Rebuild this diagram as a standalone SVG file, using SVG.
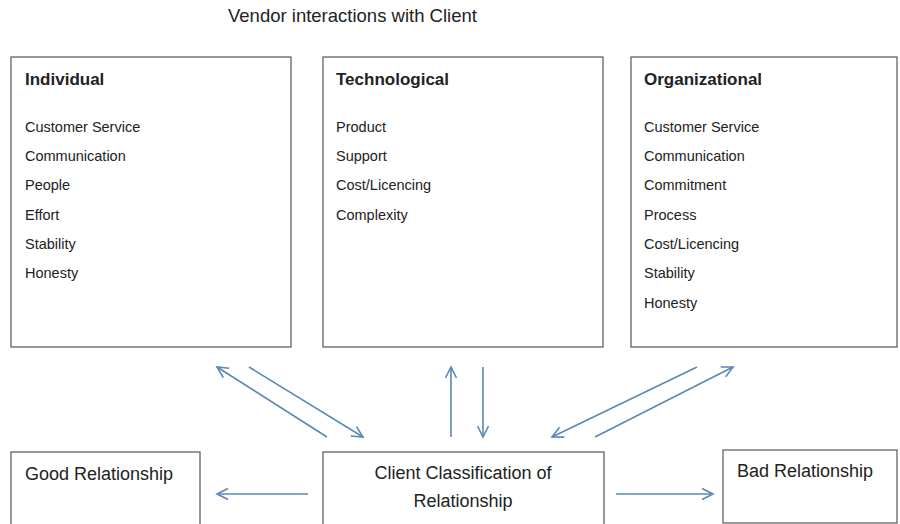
<svg xmlns="http://www.w3.org/2000/svg" width="900" height="524" viewBox="0 0 900 524">
  <style>
    .box { fill: #ffffff; stroke: #555555; stroke-width: 1.2; }
    .t { font-family: "Liberation Sans", Arial, sans-serif; fill: #222222; }
    .title { font-size: 18.5px; }
    .hdr { font-size: 17px; font-weight: bold; }
    .item { font-size: 14.5px; }
    .big { font-size: 18px; }
    .arrow { stroke: #5b87b5; stroke-width: 1.6; fill: none; marker-end: url(#head); }
  </style>
  <defs>
    <marker id="head" markerUnits="userSpaceOnUse" markerWidth="14" markerHeight="14" viewBox="0 0 14 14" refX="12" refY="7" orient="auto">
      <path d="M1,1.5 L12,7 L1,12.5" fill="none" stroke="#5b87b5" stroke-width="1.6"/>
    </marker>
  </defs>
  <rect width="900" height="524" fill="#ffffff"/>

  <text class="t title" x="228" y="22">Vendor interactions with Client</text>

  <g id="individual">
    <rect class="box" x="11" y="57" width="280" height="290"/>
    <text class="t hdr" x="25" y="85">Individual</text>
    <text class="t item" x="25" y="132">Customer Service</text>
    <text class="t item" x="25" y="161">Communication</text>
    <text class="t item" x="25" y="190">People</text>
    <text class="t item" x="25" y="220">Effort</text>
    <text class="t item" x="25" y="249">Stability</text>
    <text class="t item" x="25" y="278">Honesty</text>
  </g>

  <g id="technological">
    <rect class="box" x="323" y="57" width="280" height="290"/>
    <text class="t hdr" x="336" y="85">Technological</text>
    <text class="t item" x="336" y="132">Product</text>
    <text class="t item" x="336" y="161">Support</text>
    <text class="t item" x="336" y="190">Cost/Licencing</text>
    <text class="t item" x="336" y="220">Complexity</text>
  </g>

  <g id="organizational">
    <rect class="box" x="631" y="57" width="266" height="290"/>
    <text class="t hdr" x="644" y="85">Organizational</text>
    <text class="t item" x="644" y="132">Customer Service</text>
    <text class="t item" x="644" y="161">Communication</text>
    <text class="t item" x="644" y="190">Commitment</text>
    <text class="t item" x="644" y="220">Process</text>
    <text class="t item" x="644" y="249">Cost/Licencing</text>
    <text class="t item" x="644" y="278">Stability</text>
    <text class="t item" x="644" y="308">Honesty</text>
  </g>

  <g id="good">
    <rect class="box" x="11" y="452" width="189" height="80"/>
    <text class="t big" x="25" y="480">Good Relationship</text>
  </g>

  <g id="client">
    <rect class="box" x="323" y="452" width="281" height="80"/>
    <text class="t big" x="463" y="479" text-anchor="middle">Client Classification of</text>
    <text class="t big" x="463" y="507" text-anchor="middle">Relationship</text>
  </g>

  <g id="bad">
    <rect class="box" x="723" y="450" width="174" height="73"/>
    <text class="t big" x="737" y="477">Bad Relationship</text>
  </g>

  <g id="connectors">
    <line class="arrow" x1="327" y1="437" x2="217" y2="367"/>
    <line class="arrow" x1="249" y1="367" x2="363" y2="437"/>
    <line class="arrow" x1="451" y1="437" x2="451" y2="367"/>
    <line class="arrow" x1="483" y1="367" x2="483" y2="437"/>
    <line class="arrow" x1="697" y1="367" x2="552" y2="437"/>
    <line class="arrow" x1="595" y1="437" x2="733" y2="367"/>
    <line class="arrow" x1="308" y1="494" x2="217" y2="494"/>
    <line class="arrow" x1="616" y1="494" x2="713" y2="494"/>
  </g>
</svg>
